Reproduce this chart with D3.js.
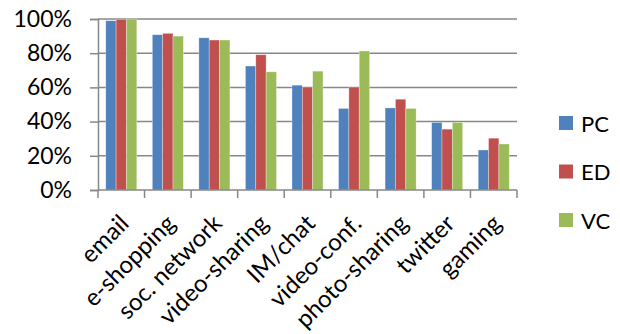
<!DOCTYPE html>
<html>
<head>
<meta charset="utf-8">
<script src="https://cdn.jsdelivr.net/npm/d3@7"></script>
<style>
  html, body { margin: 0; padding: 0; background: #fff; }
  svg { display: block; }
  text { font-family: Lato, "Open Sans", sans-serif; fill: #000; }
</style>
</head>
<body>
<svg id="chart" width="620" height="334"></svg>
<script>
// Share of users per application, by group
const categories = ["email", "e-shopping", "soc. network", "video-sharing", "IM/chat",
  "video-conf.", "photo-sharing", "twitter", "gaming"];
const seriesNames = ["PC", "ED", "VC"];
const pcValues = [99, 90.8, 89, 72.5, 61.3, 47.7, 48, 39.5, 23.4];
const edValues = [99.8, 91.6, 87.7, 79.1, 60.2, 60.2, 53.1, 35.6, 30.3];
const vcValues = [100, 90, 87.7, 69.1, 69.5, 81.3, 47.7, 39.5, 26.9];
const yTicks = [0, 20, 40, 60, 80, 100];
const colors = ["#4F81BD", "#C0504D", "#9BBB59"];

const seriesValues = [pcValues, edValues, vcValues];

const svg = d3.select("#chart");
const plot = { left: 98, right: 517, top: 19, bottom: 190 };

const x = d3.scaleBand()
  .domain(categories)
  .range([plot.left, plot.right])
  .paddingInner(0)
  .paddingOuter(0);

// Three bars fill 2/3 of each category; the gap between groups is 1.5 bars wide
const barW = x.bandwidth() / 4.5;
const groupOffset = barW * 0.75;

const y = d3.scaleLinear().domain([0, 100]).range([plot.bottom, plot.top]);

// Gridlines
svg.append("g")
  .selectAll("line")
  .data(yTicks.filter(d => d > 0))
  .join("line")
  .attr("x1", plot.left)
  .attr("x2", plot.right)
  .attr("y1", d => y(d))
  .attr("y2", d => y(d))
  .attr("stroke", "#878787")
  .attr("stroke-width", 1.5);

// Bars
const groups = svg.append("g")
  .selectAll("g")
  .data(categories)
  .join("g")
  .attr("transform", d => `translate(${x(d) + groupOffset},0)`);

groups.selectAll("rect")
  .data((c, i) => seriesNames.map((s, j) => ({ s, j, v: seriesValues[j][i] })))
  .join("rect")
  .attr("x", d => d.j * barW)
  .attr("y", d => y(d.v))
  .attr("width", barW)
  .attr("height", d => y(0) - y(d.v))
  .attr("fill", d => colors[d.j])
  .attr("stroke", "rgba(255,255,255,0.45)")
  .attr("stroke-width", 0.7);

// Y axis
const yAxis = svg.append("g")
  .attr("transform", `translate(${plot.left},0)`)
  .call(d3.axisLeft(y).tickValues(yTicks).tickFormat(d => d + "%").tickSize(8).tickPadding(18));
yAxis.select(".domain").attr("stroke", "#878787").attr("stroke-width", 1.5);
yAxis.selectAll(".tick line").attr("stroke", "#878787").attr("stroke-width", 1.5);
yAxis.selectAll(".tick text")
  .attr("font-size", 23)
  .attr("font-family", "Lato, sans-serif")
  .attr("fill", "#000");

// X axis with ticks at category boundaries
const xAxisG = svg.append("g").attr("transform", `translate(0,${plot.bottom})`);
xAxisG.append("line")
  .attr("x1", plot.left).attr("x2", plot.right)
  .attr("stroke", "#878787").attr("stroke-width", 1.5);
xAxisG.selectAll("line.tk")
  .data(categories.map(c => x(c)).concat([plot.right]))
  .join("line")
  .attr("class", "tk")
  .attr("x1", d => d).attr("x2", d => d)
  .attr("y1", 0).attr("y2", 8)
  .attr("stroke", "#878787").attr("stroke-width", 1.5);

xAxisG.selectAll("text")
  .data(categories)
  .join("text")
  .attr("text-anchor", "end")
  .attr("font-size", 24)
  .attr("transform", d => `translate(${x(d) + x.bandwidth() / 2 + 9},${35}) rotate(-45)`)
  .text(d => d);

// Legend
const legend = svg.append("g").attr("transform", "translate(559,116)");
const items = legend.selectAll("g")
  .data(seriesNames)
  .join("g")
  .attr("transform", (d, i) => `translate(0,${i * 48.5})`);
items.append("rect")
  .attr("width", 14).attr("height", 14)
  .attr("fill", (d, i) => colors[i]);
items.append("text")
  .attr("x", 22).attr("y", 15.5)
  .attr("font-size", 22)
  .text(d => d);
</script>
</body>
</html>
